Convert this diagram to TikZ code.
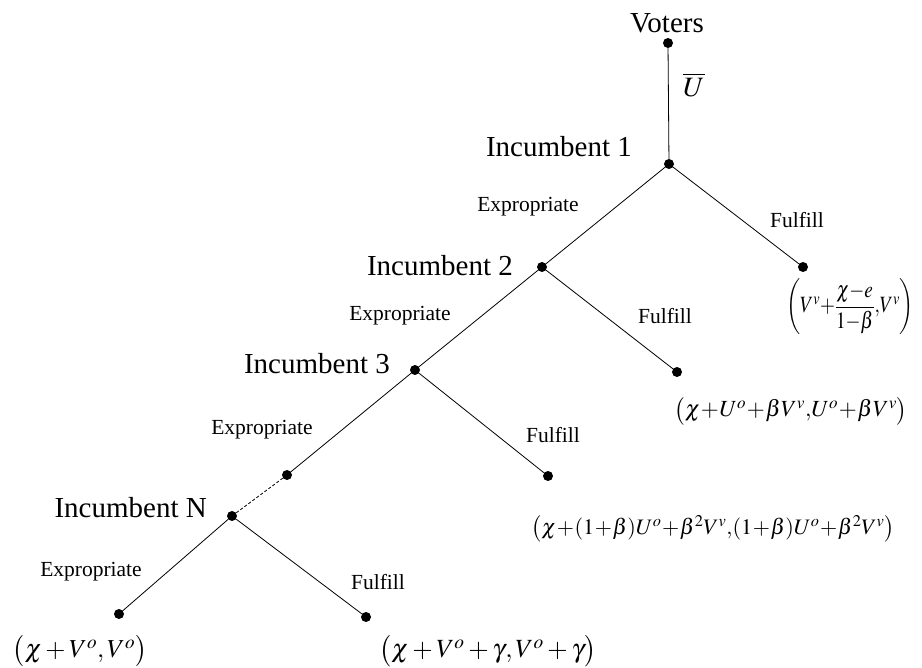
\documentclass[tikz,border=0pt]{standalone}
\usepackage{graphicx}
\usepackage{mathptmx}
\usepackage[no-math]{fontspec}
\setmainfont{Liberation Serif}
\begin{document}
\begin{tikzpicture}[x=1pt,y=-1pt,
  dot/.style={circle,fill=black,inner sep=0pt,minimum size=10pt},
  edge/.style={line width=0.8pt},
  player/.style={inner sep=0pt,font=\fontsize{29}{34}\selectfont},
  act/.style={inner sep=0pt,font=\fontsize{21.5}{26}\selectfont},
  pay/.style={inner sep=0pt,font=\fontsize{24}{28}\selectfont}]
\useasboundingbox (0,0) rectangle (922,668);
% decision nodes
\node[dot] (V)  at (668,43)  {};
\node[dot] (I1) at (669,164) {};
\node[dot] (F1) at (803,267) {};
\node[dot] (I2) at (542,267) {};
\node[dot] (F2) at (677,372) {};
\node[dot] (I3) at (415,370) {};
\node[dot] (F3) at (548,476) {};
\node[dot] (M)  at (287,475) {};
\node[dot] (IN) at (232,516) {};
\node[dot] (EN) at (119,614) {};
\node[dot] (FN) at (366,617) {};
% edges
\draw[edge] (V) -- (I1);
\draw[edge] (I1) -- (I2);
\draw[edge] (I1) -- (F1);
\draw[edge] (I2) -- (I3);
\draw[edge] (I2) -- (F2);
\draw[edge] (I3) -- (M);
\draw[edge] (I3) -- (F3);
\draw[edge,dashed,dash pattern=on 3pt off 2pt] (M) -- (IN);
\draw[edge] (IN) -- (EN);
\draw[edge] (IN) -- (FN);
% player labels
\node[player,anchor=base] (tV) at (667,33) {Voters};
\node[player,anchor=base east] (t1) at (632,157) {Incumbent 1};
\node[player,anchor=base east] (t2) at (513,276) {Incumbent 2};
\node[player,anchor=base east] (t3) at (390,374) {Incumbent 3};
\node[player,anchor=base east] (tN) at (207,518) {Incumbent N};
\node[inner sep=0pt,font=\fontsize{28}{32}\selectfont] (ub) at (694,85) {$\overline{U}$};
% action labels
\node[act] (e1) at (528,207) {Expropriate};
\node[act] (e2) at (400,316) {Expropriate};
\node[act] (e3) at (262,430) {Expropriate};
\node[act] (e4) at (91,572) {Expropriate};
\node[act] (f1) at (797,220) {Fulfill};
\node[act] (f2) at (665,316) {Fulfill};
\node[act] (f3) at (553,435) {Fulfill};
\node[act] (f4) at (378,582) {Fulfill};
% payoffs
\node[pay] (p1) at (850,307) {\resizebox*{128pt}{56pt}{$\medmuskip=0mu\thinmuskip=0mu\left(V^{v}+{\displaystyle\frac{\chi-e}{1-\beta}}{,}V^{v}\right)$}};
\node[pay] (p2) at (791,411) {\resizebox{233pt}{!}{$\medmuskip=0.5mu\bigl(\chi+U^{o}+\beta V^{v}{,}U^{o}+\beta V^{v}\bigr)$}};
\node[pay] (p3) at (713,529) {\resizebox{363pt}{!}{$\medmuskip=0.5mu\bigl(\chi+(1+\beta)U^{o}+\beta^{2}V^{v}{,}(1+\beta)U^{o}+\beta^{2}V^{v}\bigr)$}};
\node[pay] (p4) at (80,651) {\resizebox{134pt}{!}{$\bigl(\chi+V^{o},V^{o}\bigr)$}};
\node[pay] (p5) at (488,651) {\resizebox{217pt}{!}{$\bigl(\chi+V^{o}+\gamma,V^{o}+\gamma\bigr)$}};
\end{tikzpicture}
\end{document}
